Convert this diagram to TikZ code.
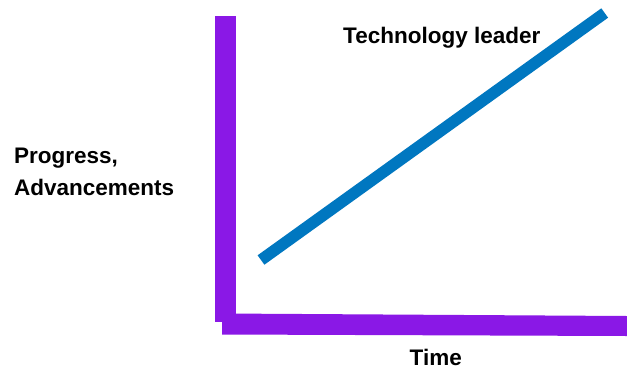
\documentclass[tikz,border=0pt]{standalone}
\usepackage{fontspec}
\setmainfont{Liberation Sans}
\definecolor{axispurple}{RGB}{138,24,230}
\definecolor{leaderblue}{RGB}{0,119,192}
\begin{document}
\begin{tikzpicture}[x=1pt,y=-1pt,
  lbl/.style={font=\fontsize{22.5}{31.7}\selectfont\bfseries, inner sep=0pt, anchor=base west, text=black},
  axisbar/.style={fill=axispurple, draw=none},
  leader/.style={draw=leaderblue, line width=11.6pt, line cap=butt}]
\useasboundingbox (0,0) rectangle (627,373);
\fill[white] (0,0) rectangle (627,373);
% axes
\path[axisbar] (215,16) rectangle (236,322);
\path[axisbar] (222,313.5) -- (627,316) -- (627,336) -- (222,334.5) -- cycle;
% leader line
\coordinate (l0) at (261,260);
\coordinate (l1) at (604.7,13);
\draw[leader] (l0) -- (l1);
% labels
\node[lbl] (tech) at (343,43) {Technology leader};
\node[lbl] (time) at (409.5,365) {Time};
\node[lbl] (prog) at (14,163) {Progress,};
\node[lbl] (adv) at (14,195) {Advancements};
\end{tikzpicture}
\end{document}
